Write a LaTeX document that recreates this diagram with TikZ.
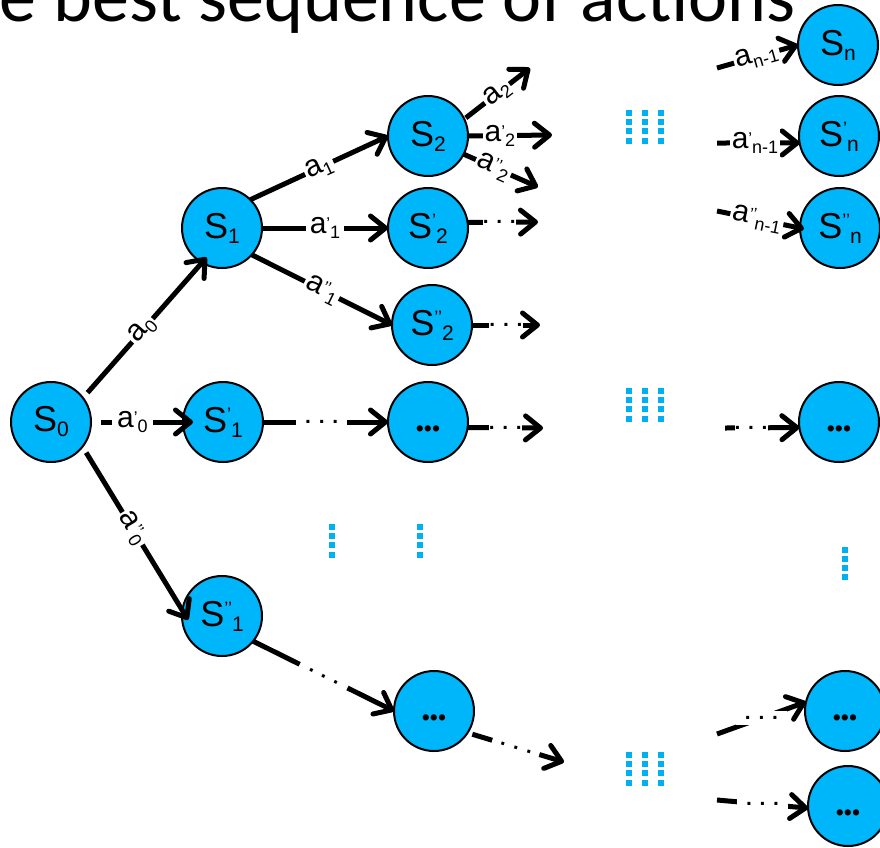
\documentclass[tikz,border=0pt]{standalone}
\usepackage{fontspec}
\setmainfont{Liberation Sans}
\newfontfamily\headfont{Carlito}
\usetikzlibrary{arrows.meta}
\definecolor{stateblue}{RGB}{0,182,250}
\definecolor{gapblue}{RGB}{0,176,240}
% state label: S, prime marks, subscript
\newcommand\stlab[2]{{\fontsize{36}{36}\selectfont S}\raisebox{12pt}{\fontsize{18}{18}\selectfont #1}\raisebox{-5pt}{\fontsize{21}{21}\selectfont #2}}
% action label: a, prime marks, subscript
\newcommand\aclab[2]{{\fontsize{30}{30}\selectfont a}\raisebox{4pt}{\fontsize{17}{17}\selectfont #1}\raisebox{-5pt}{\fontsize{18}{18}\selectfont #2}}
% bold dots inside an unnamed state
\newcommand\more{\raisebox{-14pt}[0pt][0pt]{\fontsize{23}{23}\selectfont •••}}
% small dots breaking a connector
\newcommand\skipdots{{\fontsize{21}{21}\selectfont\bfseries . . .}}
\tikzset{
  stnode/.style={circle, draw=black, line width=2pt, fill=stateblue, minimum size=80pt, inner sep=0pt, outer sep=0pt},
  act/.style={line width=5pt, -{Straight Barb[round,length=15pt,width=24pt]}},
  tag/.style={fill=white, inner sep=2pt},
  gap/.style={fill=white, inner ysep=5pt, inner xsep=#1},
  gap/.default=0pt,
}
\begin{document}
\begin{tikzpicture}[x=1pt, y=-1pt]
\useasboundingbox (0,0) rectangle (880,847);
\clip (0,0) rectangle (880,847);

% heading line, cut by the top edge
\node[anchor=base east, inner sep=0pt] (title) at (796,21) {\headfont\fontsize{74}{74}\selectfont e best sequence of actions};

% states
\node[stnode] (S0) at (51,422) {\stlab{}{0}};
\node[stnode] (S1) at (222,228) {\stlab{}{1}};
\node[stnode] (S1a) at (223,422) {\stlab{’}{1}};
\node[stnode] (S1b) at (222,616) {\stlab{’’}{1}};
\node[stnode] (S2) at (428,136) {\stlab{}{2}};
\node[stnode] (S2a) at (428,228) {\stlab{’}{2}};
\node[stnode] (S2b) at (432,325) {\stlab{’’}{2}};
\node[stnode] (M1) at (428,422) {\more};
\node[stnode] (M2) at (434,711) {\more};
\node[stnode] (Sn) at (838,45) {\stlab{}{n}};
\node[stnode] (Sna) at (839,136) {\stlab{’}{n}};
\node[stnode] (Snb) at (840,228) {\stlab{’’}{n}};
\node[stnode] (M3) at (839,422) {\more};
\node[stnode] (M4) at (845,711) {\more};
\node[stnode] (M5) at (848,806) {\more};

% free ends of open connectors
\coordinate (e2a) at (530,68);
\coordinate (e2b) at (552,135);
\coordinate (e2c) at (538,187);
\coordinate (e2d) at (538,222);
\coordinate (e2e) at (540,325);
\coordinate (e3) at (543,428);
\coordinate (e4) at (564,762);
\coordinate (b1) at (717,68);
\coordinate (b2) at (717,143);
\coordinate (b3) at (717,211);
\coordinate (b4) at (725,428);
\coordinate (b5) at (717,734);
\coordinate (b6) at (717,800);

% actions
\draw[act, shorten <=7pt, shorten >=-7pt] (S0.37) -- node[tag, sloped] {\aclab{}{0}} (S1.240);
\draw[act, shorten <=10pt, shorten >=-10pt] (S0.0) -- node[tag, pos=0.45, inner xsep=5pt] {\aclab{’}{0}} (S1a.180);
\draw[act, shorten <=7pt, shorten >=-11pt] (S0.-38) -- node[tag, sloped] {\aclab{’’}{0}} (S1b.172);
\draw[act] (S1.45) -- node[tag, sloped] {\aclab{}{1}} (S2.180);
\draw[act] (S1.0) -- node[tag, inner xsep=4pt] {\aclab{’}{1}} (S2a.180);
\draw[act] (S1.-42) -- node[tag, sloped] {\aclab{’’}{1}} (S2b.180);
\draw[act, shorten <=2pt] (S2.25) -- node[tag, sloped] {\aclab{}{2}} (e2a);
\draw[act] (S2.0) -- node[tag, pos=0.38] {\aclab{’}{2}} (e2b);
\draw[act] (S2.-27) -- node[tag, sloped, pos=0.4] {\aclab{’’}{2}} (e2c);
\draw[act] (S2a.8) -- node[gap, pos=0.45] {\skipdots} (e2d);
\draw[act] (S2b.0) -- node[gap] {\skipdots} (e2e);
\draw[act] (S1a.0) -- node[gap=9pt, pos=0.47] {\skipdots} (M1.180);
\draw[act] (M1.-8) -- node[gap] {\skipdots} (e3);
\draw[act] (S1b.-39) -- node[gap=10pt, sloped] {\skipdots} (M2.180);
\draw[act, shorten <=5pt] (M2.-33) -- node[gap=8pt, sloped] {\skipdots} (e4);
\draw[act] (b1) -- node[tag, sloped, pos=0.49] {\aclab{}{n-1}} (Sn.180);
\draw[act] (b2) -- node[tag, pos=0.46] {\aclab{’}{n-1}} (Sna.190);
\draw[act, shorten >=-4pt] (b3) -- node[tag, sloped, pos=0.48] {\aclab{’’}{n-1}} (Snb.180);
\draw[act] (b4) -- node[gap, pos=0.35] {\skipdots} (M3.188);
\draw[act] (b5) -- node[gap=9pt] {\skipdots} (M4.167);
\draw[act] (b6) -- node[gap=9pt] {\skipdots} (M5.183);

% elided levels
\foreach \cx in {629,645,661}
  \foreach \cy in {113,122,131,141,391,400,409,419,755,764,773,783}
    \fill[gapblue] (\cx-3,\cy-3) rectangle (\cx+3,\cy+3);
\foreach \cx in {332,420}
  \foreach \cy in {527,536,545,555}
    \fill[gapblue] (\cx-3,\cy-3) rectangle (\cx+3,\cy+3);
\foreach \cy in {550,559,568,577}
  \fill[gapblue] (842,\cy-3) rectangle (848,\cy+3);
\end{tikzpicture}
\end{document}
